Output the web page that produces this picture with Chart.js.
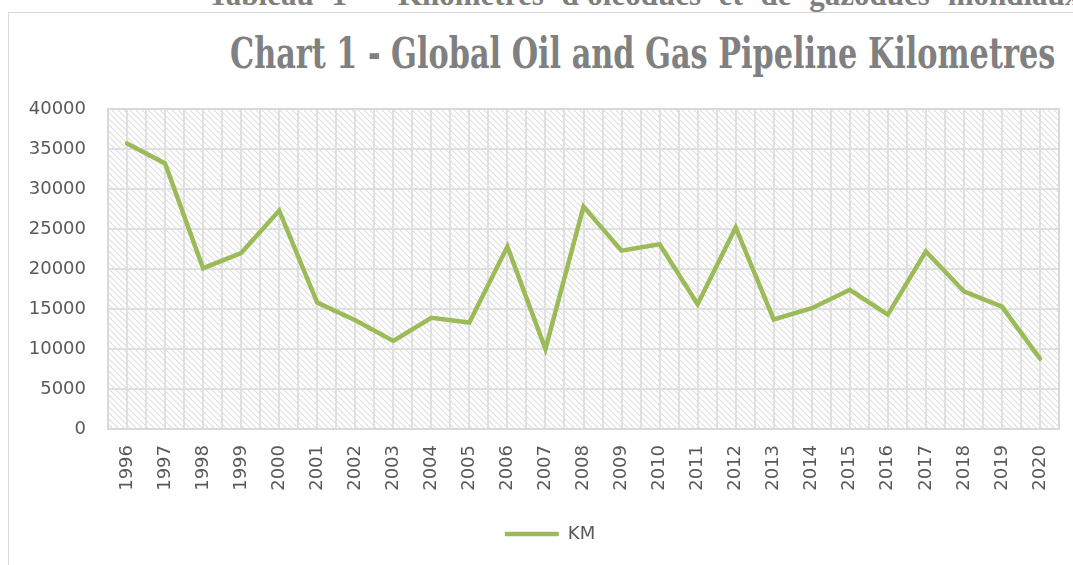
<!DOCTYPE html>
<html>
<head>
<meta charset="utf-8">
<title>Global Oil and Gas Pipeline Kilometres</title>
<script src="https://cdn.jsdelivr.net/npm/chart.js@4.4.1/dist/chart.umd.min.js"></script>
<style>
  html, body { margin: 0; padding: 0; background: #fff; overflow: hidden; width: 1073px; height: 565px; }
  #caption { position: absolute; left: 208px; top: -21px; font: bold 31px "Liberation Serif", serif; color: #7f7f7f; white-space: nowrap; word-spacing: 10px; line-height: 31px; }
  #frame { position: absolute; left: 8px; top: 12px; width: 1100px; height: 600px; border: 1px solid #d9d9d9; box-sizing: border-box; }
  #title { position: absolute; left: 230px; top: 33px; font: bold 42px "DejaVu Serif", serif; color: #808080; white-space: nowrap; line-height: 42px; transform-origin: 0 0; }
  #wrap { position: absolute; left: 9px; top: 13px; width: 1064px; height: 552px; }
</style>
</head>
<body>
<div id="caption">Tableau 1 – Kilomètres d'oléoducs et de gazoducs mondiaux</div>
<div id="frame"></div>
<div id="title">Chart 1 - Global Oil and Gas Pipeline Kilometres</div>
<div id="wrap"><canvas id="pipelineChart"></canvas></div>

<script>
// ── Data ──────────────────────────────────────────────────────────────────────
const YEARS = ['1996', '1997', '1998', '1999', '2000', '2001', '2002', '2003', '2004',
  '2005', '2006', '2007', '2008', '2009', '2010', '2011', '2012', '2013', '2014',
  '2015', '2016', '2017', '2018', '2019', '2020'];
const KM = [35700, 33200, 20100, 22000, 27300, 15800, 13600, 11000, 13900,
  13300, 22800, 10000, 27800, 22300, 23100, 15600, 25200, 13700, 15100,
  17400, 14300, 22200, 17200, 15300, 8800];
const SERIES_LABEL = 'KM';
const Y_MIN = 0;
const Y_MAX = 40000;
const Y_STEP = 5000;

// ── Style ─────────────────────────────────────────────────────────────────────
const TEXT = '#595959';
const GRID = '#e0e0e0';
const LINE = '#9bbb59';
const FONT = { family: 'DejaVu Sans', size: 18 };

// fit the condensed title to its width in the original
const titleEl = document.getElementById('title');
titleEl.style.transform = `scaleX(${825 / titleEl.offsetWidth})`;

// ── Hatched plot area ─────────────────────────────────────────────────────────
function makeHatch() {
  const c = document.createElement('canvas');
  c.width = 6; c.height = 6;
  const g = c.getContext('2d');
  g.strokeStyle = '#dedede';
  g.lineWidth = 1.1;
  g.beginPath();
  g.moveTo(-1, -1); g.lineTo(7, 7);
  g.moveTo(-1, 5); g.lineTo(1, 7);
  g.moveTo(5, -1); g.lineTo(7, 1);
  g.stroke();
  return g.createPattern(c, 'repeat');
}
const hatch = makeHatch();

const plotArea = {
  id: 'plotArea',
  afterLayout(chart) {
    // legend sits a little right of the canvas centre in the original
    chart.legend.left += 6;
    chart.legend.right += 6;
  },
  beforeDraw(chart) {
    const { ctx, chartArea: a } = chart;
    ctx.save();
    ctx.fillStyle = hatch;
    ctx.fillRect(a.left, a.top, a.width, a.height);
    ctx.restore();
  },
  beforeDatasetsDraw(chart) {
    const { ctx, chartArea: a } = chart;
    ctx.save();
    ctx.strokeStyle = '#d9d9d9';
    ctx.lineWidth = 2;
    ctx.strokeRect(a.left, a.top, a.width, a.height);
    ctx.restore();
  },
};

// ── Chart ─────────────────────────────────────────────────────────────────────
new Chart(document.getElementById('pipelineChart').getContext('2d'), {
  type: 'line',
  data: {
    labels: YEARS,
    datasets: [{
      label: SERIES_LABEL,
      data: KM,
      borderColor: LINE,
      backgroundColor: LINE,
      borderWidth: 4.5,
      borderCapStyle: 'round',
      pointRadius: 0,
      tension: 0,
      xAxisID: 'x',
    }],
  },
  options: {
    responsive: true,
    maintainAspectRatio: false,
    animation: false,
    layout: { padding: { left: 20, right: 14, top: 96, bottom: 12 } },
    plugins: {
      legend: {
        position: 'bottom',
        labels: {
          usePointStyle: true,
          pointStyle: 'line',
          pointStyleWidth: 54,
          color: TEXT,
          font: FONT,
          padding: 10,
        },
      },
      tooltip: { enabled: false },
    },
    scales: {
      x: {
        type: 'category',
        offset: true,
        grid: { display: false },
        border: { display: false },
        ticks: { minRotation: 90, maxRotation: 90, autoSkip: false, color: TEXT, font: FONT, padding: 8 },
        afterFit: (s) => { s.height = 86; },
      },
      // grid lines at every category centre and boundary
      xg: {
        type: 'linear',
        position: 'bottom',
        min: -0.5,
        max: YEARS.length - 0.5,
        ticks: { display: false, stepSize: 0.5, maxTicksLimit: 200 },
        grid: { color: GRID, lineWidth: 2, drawTicks: false },
        border: { display: false },
        afterFit: (s) => { s.height = 0; },
      },
      y: {
        min: Y_MIN,
        max: Y_MAX,
        ticks: { stepSize: Y_STEP, color: TEXT, font: FONT, padding: 22, callback: (v) => String(v) },
        grid: { color: GRID, lineWidth: 2, drawTicks: false },
        border: { display: false },
        afterFit: (s) => { s.width = 79; },
      },
    },
  },
  plugins: [plotArea],
});
</script>
</body>
</html>
